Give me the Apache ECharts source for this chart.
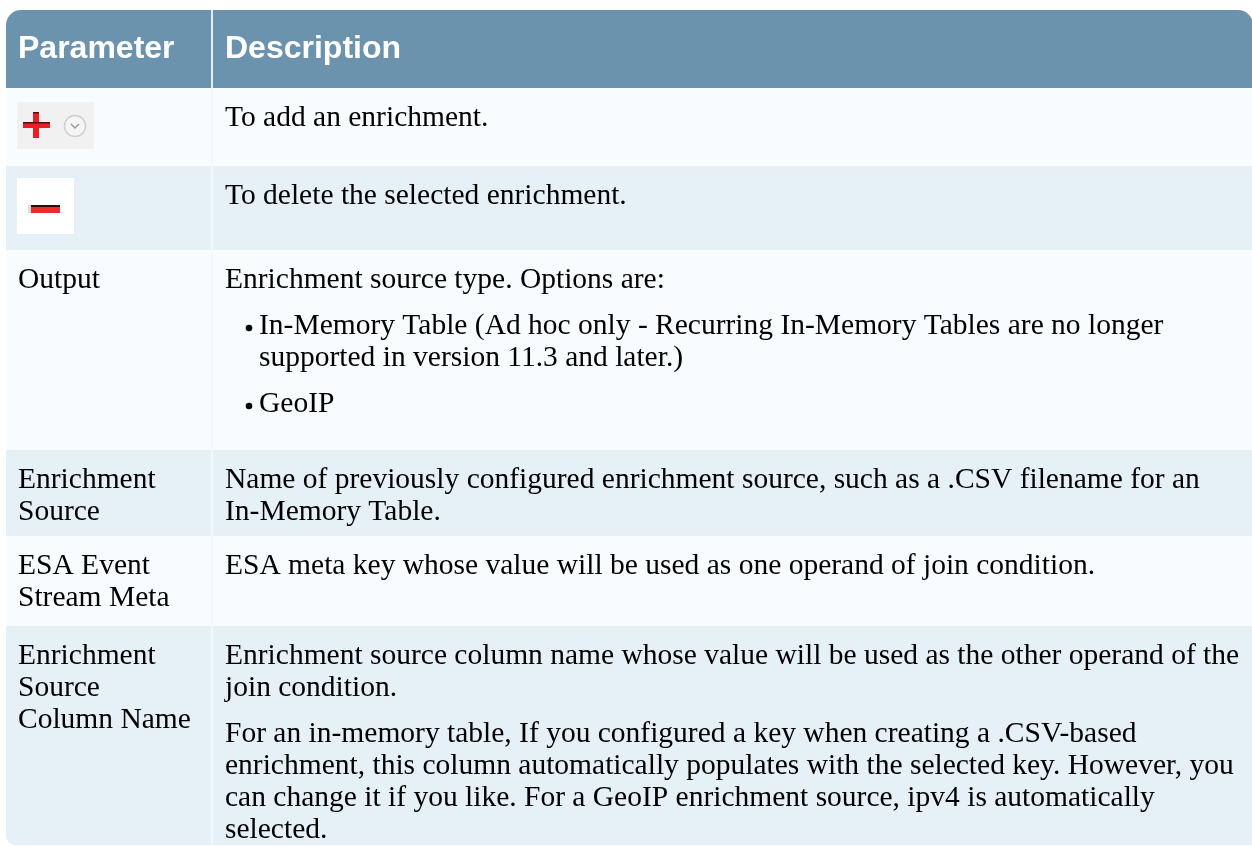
<!DOCTYPE html>
<html>
<head>
<meta charset="utf-8">
<script src="https://cdn.jsdelivr.net/npm/echarts@6/dist/echarts.min.js"></script>
<style>
html,body{margin:0;padding:0;background:#fff;}
#chart{width:1252px;height:846px;}
</style>
</head>
<body>
<div id="chart"></div>
<script>
// ---- table content ----
const headers = ['Parameter', 'Description'];
const paramLabels = [
  [],
  [],
  ['Output'],
  ['Enrichment', 'Source'],
  ['ESA Event', 'Stream Meta'],
  ['Enrichment', 'Source', 'Column Name']
];
const paramIcons = ['add', 'delete', null, null, null, null];
// each description: list of paragraphs, each paragraph: list of lines
const descParagraphs = [
  [['To add an enrichment.']],
  [['To delete the selected enrichment.']],
  [
    ['Enrichment source type. Options are:'],
    ['In-Memory Table (Ad hoc only - Recurring In-Memory Tables are no longer', 'supported in version 11.3 and later.)'],
    ['GeoIP']
  ],
  [['Name of previously configured enrichment source, such as a .CSV filename for an', 'In-Memory Table.']],
  [['ESA meta key whose value will be used as one operand of join condition.']],
  [
    ['Enrichment source column name whose value will be used as the other operand of the', 'join condition.'],
    ['For an in-memory table, If you configured a key when creating a .CSV-based', 'enrichment, this column automatically populates with the selected key. However, you', 'can change it if you like. For a GeoIP enrichment source, ipv4 is automatically', 'selected.']
  ]
];
const descBullets = [
  [false],
  [false],
  [false, true, true],
  [false],
  [false],
  [false, false]
];

// ---- layout / style constants ----
const L = {
  left: 6, right: 1253, top: 10, headerH: 78, colX: 211,
  rowHeights: [78, 84, 200, 86, 90, 219],
  textX1: 18, textX2: 225, bulletX: 249, bulletTextX: 259,
  firstLine: 30, lineStep: 32, paraGap: 14,
  headerColor: '#6c93ae', rowColors: ['#f8fcfe', '#e5f0f7'],
  bodyFont: '29.5px "Liberation Serif", "Times New Roman", serif',
  headFont: 'bold 32px "Liberation Sans", Arial, sans-serif'
};

function txt(s, x, y, font, fill, align) {
  return {
    type: 'text', silent: true,
    style: { text: s, x: x, y: y, font: font, fill: fill,
      align: align || 'left', verticalAlign: 'middle',
      textAlign: align || 'left', textVerticalAlign: 'middle' }
  };
}

const g = [];
const W = L.right - L.left;
// header
g.push({ type: 'rect', shape: { x: L.left, y: L.top, width: W, height: L.headerH, r: [15, 15, 0, 0] }, style: { fill: L.headerColor }, silent: true });
g.push(txt(headers[0], L.textX1, L.top + 39, L.headFont, '#ffffff'));
g.push(txt(headers[1], L.textX2, L.top + 39, L.headFont, '#ffffff'));

let y = L.top + L.headerH;
const rowTops = [];
L.rowHeights.forEach(function (h, i) {
  rowTops.push(y);
  const last = i === L.rowHeights.length - 1;
  g.push({ type: 'rect', shape: { x: L.left, y: y, width: W, height: h, r: last ? [0, 0, 0, 9] : 0 }, style: { fill: L.rowColors[i % 2] }, silent: true });
  y += h;
});
// column divider
g.push({ type: 'rect', shape: { x: L.colX, y: L.top, width: 2, height: y - L.top }, style: { fill: '#f3f7fa', opacity: 0.9 }, silent: true });

// rows content
rowTops.forEach(function (top, i) {
  // parameter labels
  paramLabels[i].forEach(function (s, k) {
    g.push(txt(s, L.textX1, top + L.firstLine + k * L.lineStep, L.bodyFont, '#000'));
  });
  // icons
  if (paramIcons[i] === 'add') {
    g.push({ type: 'rect', shape: { x: 17, y: top + 14, width: 77, height: 47 }, style: { fill: '#f1f1f1' }, silent: true });
    g.push({ type: 'rect', shape: { x: 23, y: top + 34, width: 27, height: 6 }, style: { fill: '#ec1c24' }, silent: true });
    g.push({ type: 'rect', shape: { x: 33, y: top + 24, width: 6, height: 26 }, style: { fill: '#ec1c24' }, silent: true });
    g.push({ type: 'rect', shape: { x: 23, y: top + 34, width: 27, height: 1.5 }, style: { fill: '#5a0a0a' }, silent: true });
    g.push({ type: 'rect', shape: { x: 33, y: top + 24, width: 6, height: 1.5 }, style: { fill: '#5a0a0a' }, silent: true });
    g.push({ type: 'circle', shape: { cx: 75, cy: top + 38, r: 10.5 }, style: { fill: '#f6f6f6', stroke: '#cfcfcf', lineWidth: 1.5 }, silent: true });
    g.push({ type: 'polyline', shape: { points: [[71, top + 36], [75, top + 40], [79, top + 36]] }, style: { stroke: '#9a9a9a', lineWidth: 1.5, fill: null }, silent: true });
  } else if (paramIcons[i] === 'delete') {
    g.push({ type: 'rect', shape: { x: 17, y: top + 12, width: 57, height: 56 }, style: { fill: '#ffffff' }, silent: true });
    g.push({ type: 'rect', shape: { x: 28, y: top + 39, width: 3, height: 8 }, style: { fill: '#dddddd' }, silent: true });
    g.push({ type: 'rect', shape: { x: 31, y: top + 39, width: 29, height: 8 }, style: { fill: '#ee2a2a' }, silent: true });
    g.push({ type: 'rect', shape: { x: 31, y: top + 39, width: 29, height: 2 }, style: { fill: '#3a0505' }, silent: true });
  }
  // description
  let ly = top + L.firstLine;
  descParagraphs[i].forEach(function (para, p) {
    if (p > 0) ly += L.paraGap;
    const bullet = descBullets[i][p];
    para.forEach(function (line, k) {
      if (bullet && k === 0) g.push({ type: 'circle', shape: { cx: L.bulletX, cy: ly + 2, r: 3.3 }, style: { fill: '#000' }, silent: true });
      g.push(txt(line, bullet ? L.bulletTextX : L.textX2, ly, L.bodyFont, '#000'));
      ly += L.lineStep;
    });
  });
});

const chart = echarts.init(document.getElementById('chart'), null, { renderer: 'canvas' });
chart.setOption({ animation: false, graphic: { elements: g } });
</script>
</body>
</html>
